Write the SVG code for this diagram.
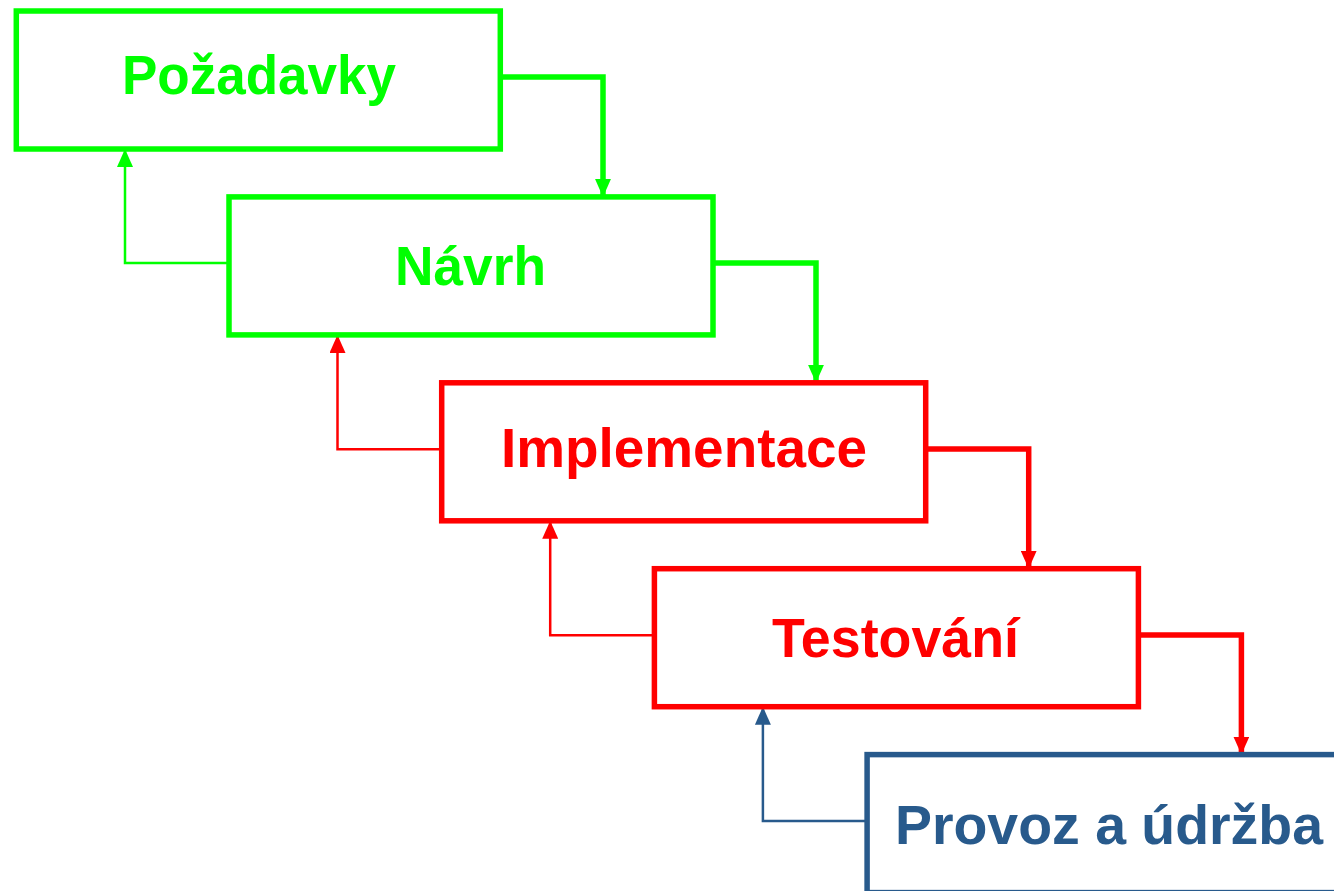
<svg xmlns="http://www.w3.org/2000/svg" width="1334" height="891" viewBox="0 0 1334 891">
  <style>
    .box { fill: #ffffff; stroke-width: 5.5; }
    .label { font-family: "Liberation Sans", Arial, sans-serif; font-weight: bold; font-size: 55px; text-anchor: middle; }
    .fwd { fill: none; stroke-width: 5.5; }
    .back { fill: none; stroke-width: 2.5; }
    .green { stroke: #00ff00; }
    .red { stroke: #ff0000; }
    .blue { stroke: #285a8c; }
    .tgreen { fill: #00ff00; }
    .tred { fill: #ff0000; }
    .tblue { fill: #285a8c; }
  </style>
  <defs>
    <marker id="arrow-green" viewBox="0 0 18 16" refX="18" refY="8" markerWidth="18" markerHeight="16" markerUnits="userSpaceOnUse" orient="auto">
      <path d="M0,0 L18,8 L0,16 z" fill="#00ff00"/>
    </marker>
    <marker id="arrow-red" viewBox="0 0 18 16" refX="18" refY="8" markerWidth="18" markerHeight="16" markerUnits="userSpaceOnUse" orient="auto">
      <path d="M0,0 L18,8 L0,16 z" fill="#ff0000"/>
    </marker>
    <marker id="arrow-blue" viewBox="0 0 18 16" refX="18" refY="8" markerWidth="18" markerHeight="16" markerUnits="userSpaceOnUse" orient="auto">
      <path d="M0,0 L18,8 L0,16 z" fill="#285a8c"/>
    </marker>
  </defs>

  <!-- connectors: forward (thick) and feedback (thin) -->
  <g id="connectors">
    <path class="fwd green" d="M500,77 H603 V196.9" marker-end="url(#arrow-green)"/>
    <path class="back green" d="M229,263 H125 V149" marker-end="url(#arrow-green)"/>

    <path class="fwd green" d="M713,263 H816 V382.8" marker-end="url(#arrow-green)"/>
    <path class="back red" d="M441.7,449.3 H337.5 V334.9" marker-end="url(#arrow-red)"/>

    <path class="fwd red" d="M925.7,449 H1028.7 V568.7" marker-end="url(#arrow-red)"/>
    <path class="back red" d="M654.4,635.2 H550.2 V520.8" marker-end="url(#arrow-red)"/>

    <path class="fwd red" d="M1138.4,635 H1241.4 V754.6" marker-end="url(#arrow-red)"/>
    <path class="back blue" d="M867.1,821.1 H762.9 V706.7" marker-end="url(#arrow-blue)"/>
  </g>

  <g id="pozadavky">
    <rect class="box green" x="16.3" y="11" width="484" height="138"/>
    <text class="label tgreen" x="259" y="94" textLength="274" lengthAdjust="spacingAndGlyphs">Požadavky</text>
  </g>

  <g id="navrh">
    <rect class="box green" x="229" y="196.9" width="484" height="138"/>
    <text class="label tgreen" x="470.5" y="285" textLength="151" lengthAdjust="spacingAndGlyphs">Návrh</text>
  </g>

  <g id="implementace">
    <rect class="box red" x="441.7" y="382.8" width="484" height="138"/>
    <text class="label tred" x="684" y="467" textLength="366" lengthAdjust="spacingAndGlyphs">Implementace</text>
  </g>

  <g id="testovani">
    <rect class="box red" x="654.4" y="568.7" width="484" height="138"/>
    <text class="label tred" x="895.5" y="657" textLength="247" lengthAdjust="spacingAndGlyphs">Testování</text>
  </g>

  <g id="provoz">
    <rect class="box blue" x="867.1" y="754.6" width="484" height="138"/>
    <text class="label tblue" x="1109" y="844" textLength="428" lengthAdjust="spacingAndGlyphs">Provoz a údržba</text>
  </g>
</svg>
